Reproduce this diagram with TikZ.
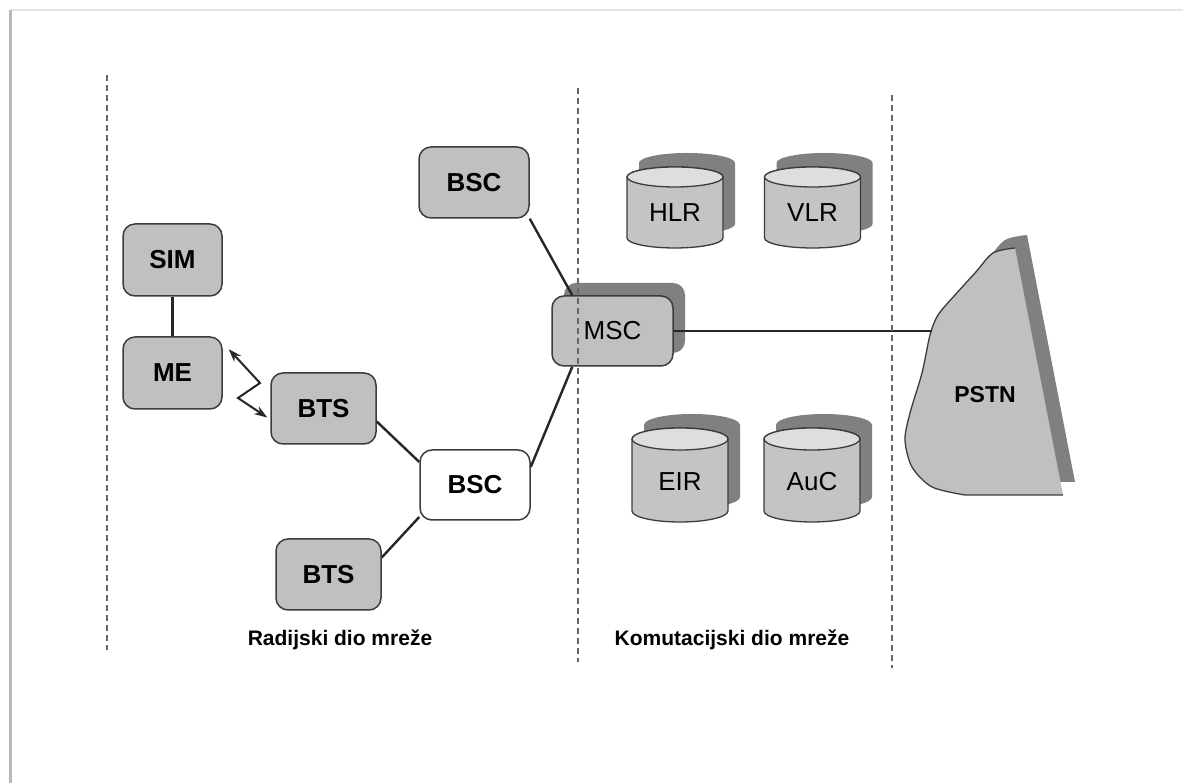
\documentclass[tikz,border=0pt]{standalone}
\usepackage{fontspec}
\setmainfont{Liberation Sans}
\definecolor{boxgray}{RGB}{192, 192, 192}
\definecolor{edgegray}{RGB}{60, 60, 60}
\definecolor{shadowgray}{RGB}{128, 128, 128}
\definecolor{toplight}{RGB}{222, 222, 222}
\definecolor{bodygray}{RGB}{196, 196, 196}
\usetikzlibrary{arrows.meta, positioning, calc, shadows}

\tikzset{
  unit/.style={draw=edgegray, fill=boxgray, line width=1.5pt, rounded corners=12pt,
    font=\fontsize{26}{28}\selectfont\bfseries},
  link/.style={line width=2.4pt, black!85},
  border/.style={dash pattern=on 6pt off 4pt, line width=1.2pt, black!60},
  seclabel/.style={font=\fontsize{21}{24}\selectfont\bfseries},
  dblabel/.style={font=\fontsize{26}{28}\selectfont}
}

% database cylinder: name, x, top y, bottom y, ry, label y, label
\newcommand{\dbcyl}[7]{%
  \fill[shadowgray] (#2-36,#3+14) -- (#2-36,#4+14)
    arc[start angle=180, end angle=360, x radius=48pt, y radius=#5pt]
    -- (#2+60,#3+14)
    arc[start angle=0, end angle=180, x radius=48pt, y radius=#5pt] -- cycle;
  \draw[edgegray, fill=bodygray, line width=1.3pt] (#2-48,#3) -- (#2-48,#4)
    arc[start angle=180, end angle=360, x radius=48pt, y radius=#5pt]
    -- (#2+48,#3)
    arc[start angle=0, end angle=180, x radius=48pt, y radius=#5pt] -- cycle;
  \draw[edgegray, fill=toplight, line width=1.3pt] (#2,#3) ellipse[x radius=48pt, y radius=#5pt];
  \node[dblabel] (#1) at (#2,#6) {#7};
}

\begin{document}
\begin{tikzpicture}[x=1pt, y=1pt]
  \useasboundingbox (0,0) rectangle (1183,783);
  \fill[white] (0,0) rectangle (1183,783);

  % page edge
  \draw[black!10, line width=2pt] (10,773) -- (1183,773);
  \draw[black!28, line width=3pt] (10,0) -- (10,773);

  % radio part
  \node[unit, minimum width=99pt, minimum height=72pt] (sim) at (172.5,523) {SIM};
  \node[unit, minimum width=99pt, minimum height=72pt] (me) at (172.5,410) {ME};
  \node[unit, minimum width=105pt, minimum height=71pt] (btsA) at (323.5,374.5) {BTS};
  \node[unit, minimum width=105pt, minimum height=71pt] (btsB) at (328.5,208.5) {BTS};
  \node[unit, fill=white, minimum width=110pt, minimum height=70pt] (bscB) at (475,298) {BSC};
  \node[unit, minimum width=110pt, minimum height=71pt] (bscA) at (474,600.5) {BSC};

  % switching part
  \node[unit, font=\fontsize{26}{28}\selectfont, minimum width=121pt, minimum height=70pt,
    drop shadow={shadow xshift=12pt, shadow yshift=13pt, fill=shadowgray, opacity=1}]
    (msc) at (612.5,452) {MSC};

  \dbcyl{hlr}{675}{606}{545}{10}{570}{HLR}
  \dbcyl{vlr}{812.5}{606}{545}{10}{570}{VLR}
  \dbcyl{eir}{680}{344}{272}{11}{301}{EIR}
  \dbcyl{auc}{812}{344}{272}{11}{301}{AuC}

  % PSTN cloud
  \fill[shadowgray] plot[smooth] coordinates {
    (1027,548) (1005,543) (987,523) (967,501) (950,481) (942,461) (934,423) (922,383)
    (917,356) (924,329) (944,309) (977,301)
  } -- (1075,301) -- cycle;
  \fill[boxgray] plot[smooth] coordinates {
    (1015,535) (993,530) (975,510) (955,488) (938,468) (930,448) (922,410) (910,370)
    (905,343) (912,316) (932,296) (965,288)
  } -- (1063,288) -- cycle;
  \draw[edgegray, line width=1.3pt] plot[smooth] coordinates {
    (1015,535) (993,530) (975,510) (955,488) (938,468) (930,448) (922,410) (910,370)
    (905,343) (912,316) (932,296) (965,288)
  } -- (1063,288);
  \node[font=\fontsize{23}{26}\selectfont\bfseries] (pstn) at (985,388) {PSTN};
  \coordinate (pstnin) at (932,452);

  % connections
  \draw[link] (sim.south) -- (me.north);
  \draw[link, line width=2pt, {Stealth[length=13pt, width=9pt]}-{Stealth[length=13pt, width=9pt]}]
    ([xshift=6pt, yshift=-13pt]me.north east) -- (260,400) -- (238,385)
    -- ([xshift=-3pt, yshift=-9pt]btsA.west);
  \draw[link] ([yshift=-13pt]btsA.east) -- ([yshift=23pt]bscB.west);
  \draw[link] ([yshift=17pt]btsB.east) -- ([yshift=-32pt]bscB.west);
  \draw[link] ([yshift=18pt]bscB.east) -- ([xshift=21pt]msc.south west);
  \draw[link] (bscA.south east) -- ([xshift=21pt]msc.north west);
  \draw[link] (msc.east) -- (pstnin);

  % section borders
  \draw[border] (107,708) -- (107,133);
  \draw[border] (578,695) -- (578,121);
  \draw[border] (892,688) -- (892,115);

  % section names
  \node[seclabel] (radio) at (340,143) {Radijski dio mreže};
  \node[seclabel] (switch) at (732,143) {Komutacijski dio mreže};
\end{tikzpicture}
\end{document}
